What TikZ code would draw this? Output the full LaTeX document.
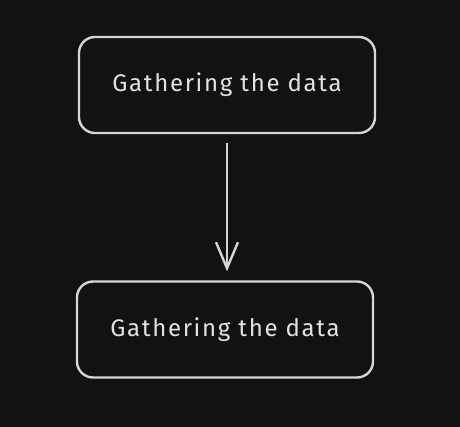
\documentclass[tikz,border=0pt]{standalone}
\usepackage{fontspec}
\setmainfont{Fira Sans}
\newfontfamily\boxfont[LetterSpace=7]{Fira Sans}
\usetikzlibrary{arrows.meta,positioning}
\definecolor{canvas}{HTML}{121212}
\definecolor{inkline}{HTML}{D6D6D6}
\definecolor{inktext}{HTML}{E2E2E2}
\tikzset{
  stepbox/.style={draw=inkline, line width=2.4pt, rounded corners=16pt,
    minimum width=296pt, minimum height=96pt, text=inktext,
    font=\boxfont\fontsize{24}{27}\selectfont},
  flow/.style={draw=inkline, line width=2.4pt,
    -{Straight Barb[length=26pt, width=22pt, line width=2.4pt]}}
}
\begin{document}
\begin{tikzpicture}[x=1pt,y=-1pt]

\fill[canvas] (0,0) rectangle (460,427);
\useasboundingbox (0,0) rectangle (460,427);

\node[stepbox] (gather) at (227,85) {Gathering the data};
\node[stepbox] (gathertwo) at (225,329.5) {Gathering the data};

\draw[flow, shorten <=9pt, shorten >=9pt] (gather.south) -- (gather.south |- gathertwo.north);

\end{tikzpicture}
\end{document}
